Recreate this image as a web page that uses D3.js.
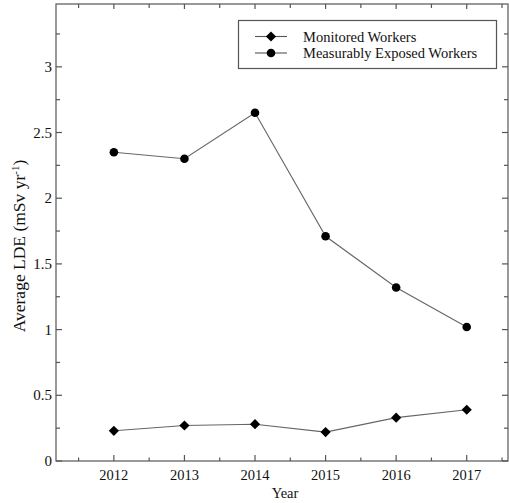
<!DOCTYPE html>
<html>
<head>
<meta charset="utf-8">
<script src="https://cdn.jsdelivr.net/npm/d3@7"></script>
<style>
  html, body { margin: 0; padding: 0; background: #fff; }
  svg { display: block; }
  text { font-family: "Liberation Serif", "Times New Roman", serif; fill: #111; }
</style>
</head>
<body>
<svg id="chart" width="509" height="503"></svg>
<script>
// Average LDE per year for the two worker groups
const years = [2012, 2013, 2014, 2015, 2016, 2017];
const monitoredWorkers = [0.23, 0.27, 0.28, 0.22, 0.33, 0.39];
const exposedWorkers = [2.35, 2.30, 2.65, 1.71, 1.32, 1.02];
const yTickValues = [0, 0.5, 1, 1.5, 2, 2.5, 3];
const yTickLabels = ["0", "0.5", "1", "1.5", "2", "2.5", "3"];
const seriesNames = ["Monitored Workers", "Measurably Exposed Workers"];

const svg = d3.select("#chart");
const plotLeft = 56, plotRight = 508, plotTop = 4, plotBottom = 461;
const axisColor = "#555";

const x = d3.scaleLinear().domain([2011.18, 2017.585]).range([plotLeft, plotRight]);
const y = d3.scaleLinear().domain([0, 3.478]).range([plotBottom, plotTop]);

const halfYears = d3.range(2011.5, 2017.6, 0.5);
const quarterVals = d3.range(0.25, 3.3, 0.5);

// frame
svg.append("rect")
  .attr("x", plotLeft).attr("y", plotTop)
  .attr("width", plotRight - plotLeft).attr("height", plotBottom - plotTop)
  .attr("fill", "none").attr("stroke", axisColor).attr("stroke-width", 1.2);

const ticks = svg.append("g").attr("stroke", axisColor).attr("stroke-width", 1.2);

// bottom axis ticks (inward)
years.forEach(v => ticks.append("line")
  .attr("x1", x(v)).attr("x2", x(v)).attr("y1", plotBottom).attr("y2", plotBottom - 6));
halfYears.filter(v => v % 1 !== 0).forEach(v => ticks.append("line")
  .attr("x1", x(v)).attr("x2", x(v)).attr("y1", plotBottom).attr("y2", plotBottom - 3.5));
// top axis ticks
halfYears.forEach(v => ticks.append("line")
  .attr("x1", x(v)).attr("x2", x(v)).attr("y1", plotTop).attr("y2", plotTop + (v % 1 === 0 ? 5 : 4)));

// left and right axis ticks
yTickValues.forEach(v => {
  ticks.append("line").attr("x1", plotLeft).attr("x2", plotLeft + 6).attr("y1", y(v)).attr("y2", y(v));
  ticks.append("line").attr("x1", plotRight).attr("x2", plotRight - 6).attr("y1", y(v)).attr("y2", y(v));
});
quarterVals.forEach(v => {
  ticks.append("line").attr("x1", plotLeft).attr("x2", plotLeft + 4).attr("y1", y(v)).attr("y2", y(v));
  ticks.append("line").attr("x1", plotRight).attr("x2", plotRight - 4).attr("y1", y(v)).attr("y2", y(v));
});

// tick labels
svg.append("g").selectAll("text").data(yTickValues).join("text")
  .attr("x", plotLeft - 4).attr("y", d => y(d) + 5)
  .attr("text-anchor", "end").attr("font-size", 15)
  .text((d, i) => yTickLabels[i]);

svg.append("g").selectAll("text").data(years).join("text")
  .attr("x", d => x(d)).attr("y", 480)
  .attr("text-anchor", "middle").attr("font-size", 14.5)
  .text(d => d);

// axis titles
svg.append("text")
  .attr("x", (plotLeft + plotRight) / 2 + 3).attr("y", 498)
  .attr("text-anchor", "middle").attr("font-size", 14.5)
  .text("Year");

const yTitle = svg.append("text")
  .attr("transform", "translate(25, 246) rotate(-90)")
  .attr("text-anchor", "middle").attr("font-size", 17.5);
yTitle.append("tspan").text("Average LDE (mSv yr");
yTitle.append("tspan").attr("font-size", 11).attr("dy", -6).text("-1");
yTitle.append("tspan").attr("dy", 6).text(")");

// series
const line = d3.line().x((d, i) => x(years[i])).y(d => y(d));
const diamondPath = d3.symbol().type(d3.symbolSquare).size(52);

function drawSeries(values, kind) {
  svg.append("path").datum(values)
    .attr("d", line).attr("fill", "none")
    .attr("stroke", "#666").attr("stroke-width", 1.1);
  const g = svg.append("g");
  if (kind === "diamond") {
    g.selectAll("path").data(values).join("path")
      .attr("d", diamondPath)
      .attr("transform", (d, i) => `translate(${x(years[i])},${y(d)}) rotate(45)`)
      .attr("fill", "#000");
  } else {
    g.selectAll("circle").data(values).join("circle")
      .attr("cx", (d, i) => x(years[i])).attr("cy", d => y(d))
      .attr("r", 4.3).attr("fill", "#000");
  }
}
drawSeries(monitoredWorkers, "diamond");
drawSeries(exposedWorkers, "circle");

// legend
const legend = svg.append("g");
legend.append("rect")
  .attr("x", 238.5).attr("y", 20.5).attr("width", 258).attr("height", 48)
  .attr("fill", "#fff").attr("stroke", axisColor).attr("stroke-width", 1.2);
seriesNames.forEach((name, i) => {
  const ly = 36.5 + i * 16.5;
  legend.append("line").attr("x1", 255).attr("x2", 287).attr("y1", ly).attr("y2", ly)
    .attr("stroke", "#555").attr("stroke-width", 1.1);
  if (i === 0) {
    legend.append("path")
      .attr("d", diamondPath)
      .attr("transform", `translate(271,${ly}) rotate(45)`).attr("fill", "#000");
  } else {
    legend.append("circle").attr("cx", 271).attr("cy", ly).attr("r", 4.3).attr("fill", "#000");
  }
  legend.append("text").attr("x", 303).attr("y", ly + 5).attr("font-size", 14.5).text(name);
});
</script>
</body>
</html>
